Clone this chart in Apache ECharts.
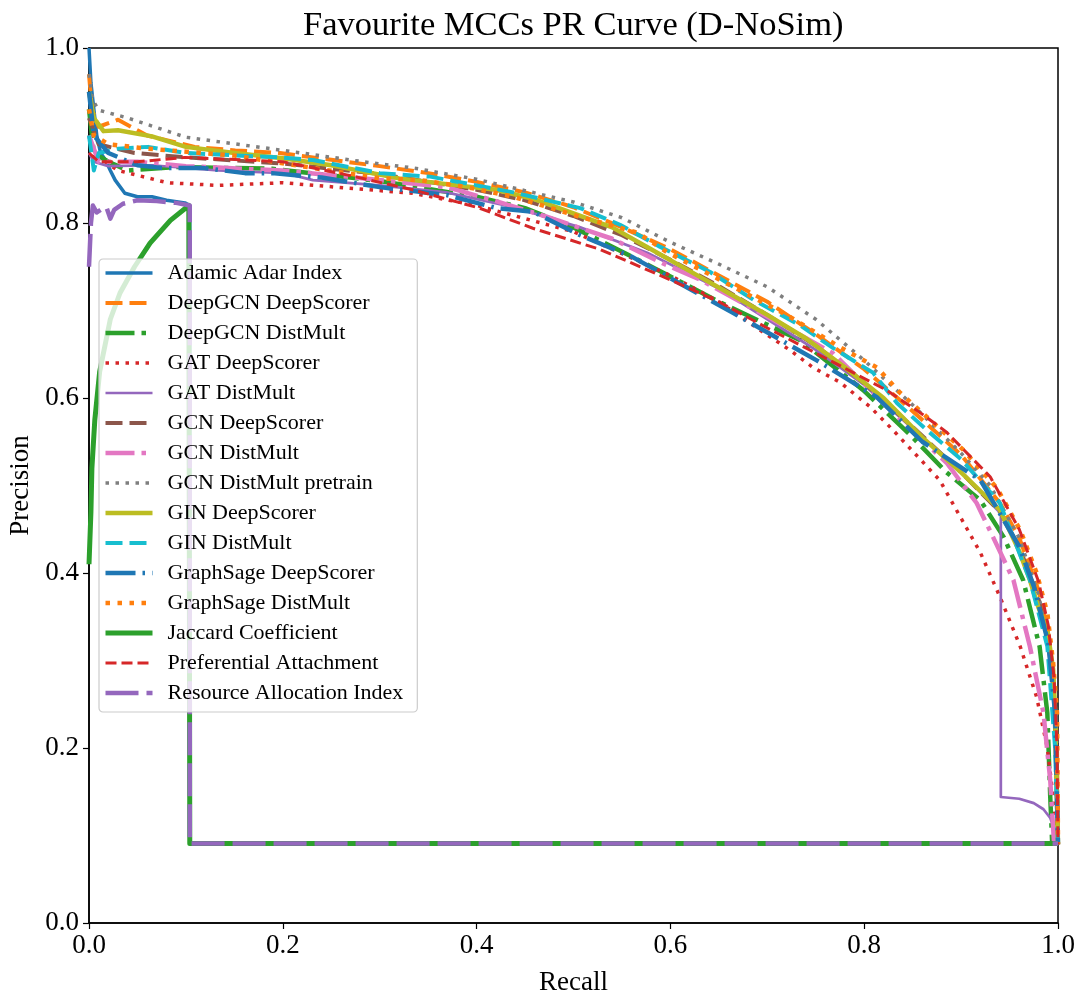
<!DOCTYPE html>
<html>
<head>
<meta charset="utf-8">
<script src="https://cdn.jsdelivr.net/npm/echarts@6/dist/echarts.min.js"></script>
<style>html,body{margin:0;padding:0;background:#fff}#c{width:1087px;height:996px}</style>
</head>
<body>
<div id="c"></div>
<script>
// ---- data: [recall, precision] ----
const seriesNames = ["Adamic Adar Index","DeepGCN DeepScorer","DeepGCN DistMult","GAT DeepScorer","GAT DistMult","GCN DeepScorer","GCN DistMult","GCN DistMult pretrain","GIN DeepScorer","GIN DistMult","GraphSage DeepScorer","GraphSage DistMult","Jaccard Coefficient","Preferential Attachment","Resource Allocation Index"];
const xTicks = [0, 0.2, 0.4, 0.6, 0.8, 1.0];
const yTicks = [0, 0.2, 0.4, 0.6, 0.8, 1.0];

const adamicAdar = [[0,1.0],[0.002,0.96],[0.005,0.93],[0.008,0.9],[0.012,0.88],[0.017,0.872],[0.022,0.86],[0.027,0.849],[0.037,0.834],[0.05,0.83],[0.065,0.83],[0.08,0.826],[0.099,0.823],[0.104,0.82],[0.104,0.091],[1.0,0.091]];
const deepgcnDeepScorer = [[0,0.97],[0.003,0.93],[0.01,0.91],[0.03,0.918],[0.06,0.9],[0.109,0.887],[0.151,0.883],[0.197,0.88],[0.231,0.875],[0.3,0.865],[0.35,0.857],[0.4,0.847],[0.45,0.835],[0.5,0.818],[0.55,0.795],[0.6,0.77],[0.65,0.74],[0.7,0.71],[0.75,0.673],[0.8,0.633],[0.85,0.585],[0.9,0.535],[0.94,0.48],[0.96,0.44],[0.98,0.38],[0.99,0.33],[0.996,0.27],[0.999,0.2],[1.0,0.09]];
const deepgcnDistMult = [[0,0.93],[0.005,0.88],[0.02,0.87],[0.04,0.86],[0.089,0.864],[0.189,0.862],[0.3,0.848],[0.4,0.83],[0.45,0.817],[0.5,0.795],[0.572,0.755],[0.65,0.71],[0.734,0.666],[0.799,0.609],[0.85,0.555],[0.885,0.515],[0.92,0.483],[0.944,0.441],[0.964,0.392],[0.981,0.316],[0.989,0.24],[0.992,0.144],[0.993,0.118],[0.994,0.09]];
const gatDeepScorer = [[0,0.9],[0.005,0.87],[0.01,0.875],[0.03,0.86],[0.081,0.846],[0.133,0.843],[0.2,0.846],[0.266,0.84],[0.334,0.834],[0.4,0.82],[0.45,0.805],[0.5,0.79],[0.55,0.765],[0.6,0.74],[0.65,0.71],[0.692,0.678],[0.723,0.655],[0.747,0.635],[0.775,0.618],[0.806,0.59],[0.83,0.563],[0.878,0.506],[0.92,0.423],[0.94,0.373],[0.961,0.316],[0.978,0.258],[0.989,0.2],[0.995,0.144],[1.0,0.09]];
const gatDistMult = [[0,0.88],[0.005,0.87],[0.02,0.865],[0.065,0.866],[0.133,0.86],[0.202,0.857],[0.231,0.849],[0.3,0.843],[0.369,0.835],[0.438,0.818],[0.507,0.795],[0.576,0.766],[0.65,0.725],[0.7,0.69],[0.75,0.655],[0.8,0.615],[0.85,0.565],[0.9,0.515],[0.941,0.468],[0.941,0.144],[0.96,0.142],[0.975,0.137],[0.985,0.13],[0.992,0.12],[0.997,0.105],[1.0,0.091]];
const gcnDeepScorer = [[0,0.92],[0.01,0.89],[0.047,0.88],[0.1,0.875],[0.2,0.868],[0.3,0.856],[0.4,0.838],[0.45,0.826],[0.5,0.808],[0.55,0.786],[0.6,0.758],[0.65,0.728],[0.7,0.695],[0.75,0.66],[0.8,0.617],[0.85,0.567],[0.9,0.515],[0.94,0.47],[0.96,0.43],[0.98,0.37],[0.99,0.32],[0.996,0.26],[1.0,0.09]];
const gcnDistMult = [[0,0.9],[0.01,0.87],[0.05,0.87],[0.1,0.865],[0.2,0.86],[0.266,0.853],[0.369,0.841],[0.42,0.825],[0.47,0.808],[0.54,0.782],[0.592,0.754],[0.631,0.735],[0.7,0.693],[0.768,0.651],[0.83,0.583],[0.885,0.526],[0.916,0.48],[0.933,0.441],[0.954,0.392],[0.971,0.316],[0.985,0.24],[0.992,0.163],[0.996,0.09]];
const gcnDistMultPretrain = [[0,0.97],[0.004,0.94],[0.01,0.929],[0.04,0.92],[0.1,0.898],[0.2,0.883],[0.283,0.87],[0.334,0.863],[0.4,0.85],[0.45,0.837],[0.5,0.824],[0.55,0.806],[0.6,0.778],[0.65,0.753],[0.7,0.727],[0.75,0.69],[0.8,0.643],[0.85,0.592],[0.9,0.537],[0.93,0.5],[0.96,0.44],[0.98,0.375],[0.99,0.32],[0.996,0.26],[0.999,0.2],[1.0,0.09]];
const ginDeepScorer = [[0,0.95],[0.005,0.92],[0.015,0.905],[0.03,0.906],[0.065,0.899],[0.1,0.887],[0.15,0.88],[0.2,0.874],[0.25,0.866],[0.32,0.851],[0.38,0.843],[0.42,0.838],[0.46,0.827],[0.49,0.815],[0.54,0.795],[0.58,0.77],[0.62,0.745],[0.66,0.72],[0.7,0.695],[0.74,0.668],[0.78,0.635],[0.82,0.6],[0.86,0.555],[0.9,0.515],[0.94,0.472],[0.96,0.425],[0.971,0.392],[0.98,0.36],[0.989,0.335],[0.995,0.29],[0.997,0.24],[1.0,0.09]];
const ginDistMult = [[0,0.9],[0.005,0.86],[0.01,0.88],[0.03,0.885],[0.061,0.887],[0.1,0.88],[0.195,0.875],[0.231,0.872],[0.3,0.857],[0.352,0.853],[0.438,0.835],[0.507,0.817],[0.548,0.798],[0.589,0.773],[0.641,0.744],[0.686,0.712],[0.734,0.683],[0.768,0.657],[0.809,0.629],[0.834,0.594],[0.865,0.563],[0.9,0.53],[0.94,0.48],[0.971,0.392],[0.989,0.316],[0.997,0.2],[1.0,0.09]];
const graphsageDeepScorer = [[0,0.95],[0.005,0.9],[0.02,0.88],[0.05,0.866],[0.075,0.863],[0.117,0.863],[0.161,0.857],[0.189,0.857],[0.24,0.852],[0.3,0.841],[0.369,0.832],[0.421,0.817],[0.458,0.813],[0.507,0.786],[0.561,0.761],[0.665,0.697],[0.751,0.643],[0.813,0.601],[0.86,0.55],[0.92,0.506],[0.96,0.43],[0.975,0.385],[0.99,0.32],[0.997,0.24],[1.0,0.09]];
const graphsageDistMult = [[0,0.93],[0.005,0.9],[0.02,0.89],[0.06,0.885],[0.15,0.877],[0.3,0.851],[0.342,0.849],[0.39,0.841],[0.438,0.83],[0.507,0.807],[0.566,0.789],[0.596,0.767],[0.665,0.727],[0.72,0.695],[0.775,0.658],[0.813,0.635],[0.837,0.606],[0.868,0.575],[0.902,0.541],[0.937,0.497],[0.961,0.449],[0.978,0.4],[0.989,0.354],[0.995,0.297],[0.999,0.24],[1.0,0.09]];
const jaccard = [[0,0.41],[0.002,0.47],[0.003,0.52],[0.006,0.575],[0.011,0.63],[0.022,0.69],[0.032,0.72],[0.047,0.75],[0.063,0.777],[0.084,0.803],[0.103,0.82],[0.104,0.82],[0.104,0.091],[1.0,0.091]];
const preferential = [[0,0.88],[0.01,0.87],[0.05,0.87],[0.099,0.875],[0.2,0.87],[0.266,0.855],[0.334,0.838],[0.403,0.817],[0.458,0.794],[0.527,0.77],[0.6,0.735],[0.65,0.71],[0.7,0.68],[0.768,0.641],[0.823,0.609],[0.858,0.583],[0.885,0.561],[0.93,0.51],[0.96,0.45],[0.98,0.39],[0.99,0.34],[0.996,0.28],[0.999,0.2],[1.0,0.09]];
const resourceAllocation = [[0,0.75],[0.002,0.8],[0.004,0.82],[0.008,0.812],[0.012,0.815],[0.018,0.818],[0.022,0.805],[0.026,0.815],[0.035,0.822],[0.05,0.826],[0.07,0.825],[0.09,0.823],[0.104,0.82],[0.104,0.091],[1.0,0.091]];

const seriesData = [adamicAdar, deepgcnDeepScorer, deepgcnDistMult, gatDeepScorer, gatDistMult, gcnDeepScorer, gcnDistMult, gcnDistMultPretrain, ginDeepScorer, ginDistMult, graphsageDeepScorer, graphsageDistMult, jaccard, preferential, resourceAllocation];

// ---- styles ----
const colors = ['#1f77b4','#ff7f0e','#2ca02c','#d62728','#9467bd','#8c564b','#e377c2','#7f7f7f','#bcbd22','#17becf','#1f77b4','#ff7f0e','#2ca02c','#d62728','#9467bd'];
const widths = [3.5,4,4.5,3.5,2.7,4,4.5,3.5,4.5,4,4.5,4.5,5,3,4.5];
const dashes = ['solid',[17,7],[29,7,4.5,7],[3.5,6.5],'solid',[17,7],[29,7,4.5,7],[3.5,6.5],'solid',[17,7],[30,7,2.5,7],[4.5,7.5],'solid',[11,5],[33,8]];

const FONT = '"Liberation Serif", "DejaVu Serif", serif';
const chart = echarts.init(document.getElementById('c'), null, {renderer:'canvas'});
chart.setOption({
  animation: false,
  backgroundColor: '#fff',
  title: { text: 'Favourite MCCs PR Curve (D-NoSim)', left: 298, top: 3,
    textStyle: { fontFamily: FONT, fontSize: 34.5, fontWeight: 'normal', color: '#000' } },
  grid: { left: 89, right: 29, top: 48, bottom: 73, outerBoundsMode: 'none', containLabel: false,
    show: true, borderColor: '#000', borderWidth: 1.5, backgroundColor: 'transparent' },
  legend: {
    orient: 'vertical', left: 99, top: 259,
    padding: [3, 14, 8, 4], itemGap: 8, itemWidth: 47, itemHeight: 14,
    backgroundColor: 'rgba(255,255,255,0.8)', borderColor: '#cccccc', borderWidth: 1.2, borderRadius: 4,
    itemStyle: { opacity: 0 },
    lineStyle: { width: 'inherit' },
    textStyle: { fontFamily: FONT, fontSize: 22, lineHeight: 16, color: '#000', padding: [0,0,0,10] },
    data: seriesNames.map((n, i) => ({ name: n, lineStyle: { width: widths[i] } }))
  },
  xAxis: { type: 'value', min: 0, max: 1, interval: 0.2,
    name: 'Recall', nameLocation: 'middle', nameGap: 46,
    nameTextStyle: { fontFamily: FONT, fontSize: 27, color: '#000' },
    axisLine: { show: true, lineStyle: { color: '#000', width: 1.5 } },
    axisTick: { show: true, length: 6, lineStyle: { color: '#000', width: 1.2 } },
    axisLabel: { fontFamily: FONT, fontSize: 27, color: '#000', margin: 9, formatter: v => v.toFixed(1) },
    splitLine: { show: false } },
  yAxis: { type: 'value', min: 0, max: 1, interval: 0.2,
    name: 'Precision', nameLocation: 'middle', nameGap: 52, nameRotate: 90,
    nameTextStyle: { fontFamily: FONT, fontSize: 27, color: '#000' },
    axisLine: { show: true, lineStyle: { color: '#000', width: 1.5 } },
    axisTick: { show: true, length: 6, lineStyle: { color: '#000', width: 1.2 } },
    axisLabel: { fontFamily: FONT, fontSize: 27, color: '#000', margin: 10, formatter: v => v.toFixed(1) },
    splitLine: { show: false } },
  series: seriesNames.map((n, i) => ({
    name: n, type: 'line', data: seriesData[i], symbol: 'none', showSymbol: false,
    color: colors[i],
    lineStyle: { color: colors[i], width: widths[i], type: dashes[i], cap: 'butt', join: 'round' },
    z: 2 + i * 0.01
  }))
});
</script>
</body>
</html>
